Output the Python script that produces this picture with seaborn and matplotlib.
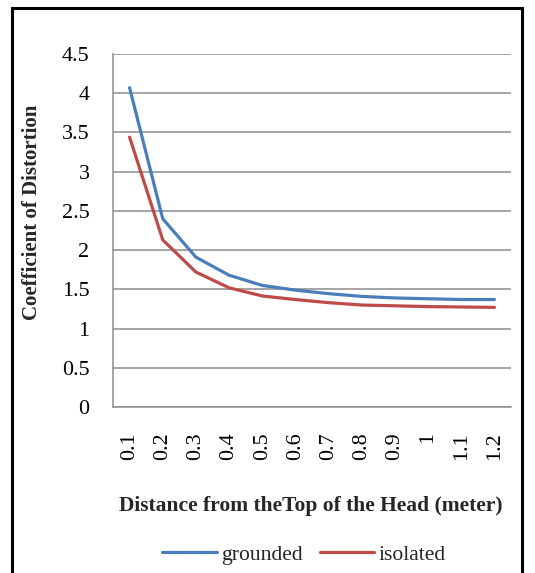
import matplotlib
matplotlib.use("Agg")
import matplotlib.pyplot as plt
import matplotlib.patches as mpatches
import seaborn as sns
import pandas as pd

distance = ["0.1", "0.2", "0.3", "0.4", "0.5", "0.6", "0.7", "0.8", "0.9", "1", "1.1", "1.2"]
grounded = [4.07, 2.40, 1.91, 1.68, 1.55, 1.49, 1.445, 1.41, 1.39, 1.38, 1.37, 1.37]
isolated = [3.44, 2.13, 1.72, 1.52, 1.415, 1.37, 1.33, 1.30, 1.29, 1.28, 1.275, 1.27]
yticks = [0, 0.5, 1, 1.5, 2, 2.5, 3, 3.5, 4, 4.5]
ytick_labels = ["0", "0.5", "1", "1.5", "2", "2.5", "3", "3.5", "4", "4.5"]

sns.set_theme(style="white")
plt.rcParams["font.family"] = ["Liberation Serif", "DejaVu Serif"]

df = pd.DataFrame({
    "distance": distance * 2,
    "value": grounded + isolated,
    "series": ["grounded"] * len(distance) + ["isolated"] * len(distance),
})

W, H = 535, 573
fig = plt.figure(figsize=(W / 100, H / 100), dpi=100)
ax = fig.add_axes([113 / W, 1 - 407 / H, (511 - 113) / W, (407 - 54) / H])

sns.lineplot(data=df, x="distance", y="value", hue="series",
             palette={"grounded": "#4A7EBB", "isolated": "#BE4B48"},
             linewidth=2.3, ax=ax, legend=False, sort=False)

ax.set_xlim(-0.5, len(distance) - 0.5)
ax.set_ylim(0, 4.5)
ax.set_yticks(yticks)
ax.set_yticklabels(ytick_labels)
ax.set_xticks(range(len(distance)))
ax.set_xticklabels(distance, rotation=90)
ax.tick_params(axis="y", length=0, pad=17, labelsize=15.8, colors="black")
ax.tick_params(axis="x", length=0, pad=18, labelsize=15.8, colors="black")
ax.grid(axis="y", color="#8C8C8C", linewidth=1.1)
ax.grid(axis="x", visible=False)
for s in ["top", "right"]:
    ax.spines[s].set_visible(False)
for s in ["left", "bottom"]:
    ax.spines[s].set_color("#8C8C8C")
    ax.spines[s].set_linewidth(1.1)
ax.set_xlabel("")
ax.set_ylabel("")

fig.text(32 / W, 1 - 212 / H, "Coefficient of Distortion", rotation=90,
         ha="center", va="center", fontsize=15, fontweight="bold")
fig.text(311 / W, 1 - 506 / H, "Distance from theTop of the Head (meter)",
         ha="center", va="center", fontsize=15.5, fontweight="bold")

handles = [plt.Line2D([], [], color="#4A7EBB", linewidth=2.3),
           plt.Line2D([], [], color="#BE4B48", linewidth=2.3)]
fig.legend(handles, ["grounded", "isolated"], loc="center",
           bbox_to_anchor=(304 / W, 1 - 555 / H), ncol=2, frameon=False,
           fontsize=15.6, handlelength=2.5, handletextpad=0.2, columnspacing=0.8)

border = mpatches.Rectangle((12 / W, -0.05), (522 - 12) / W, 1 - 8 / H + 0.05,
                            transform=fig.transFigure, fill=False,
                            edgecolor="black", linewidth=2.2, clip_on=False)
fig.patches.append(border)

fig.savefig("out.png", dpi=100)
